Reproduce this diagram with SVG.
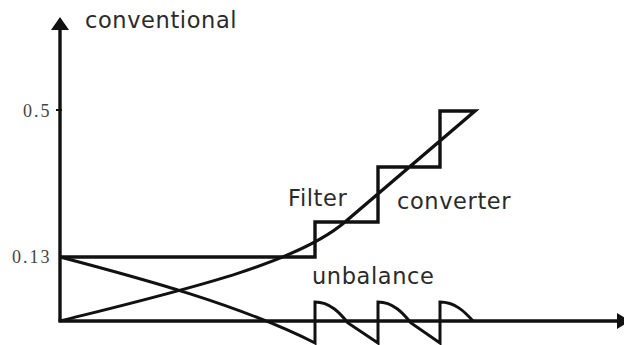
<svg xmlns="http://www.w3.org/2000/svg" width="624" height="345" viewBox="0 0 624 345">
<style>
.ln{fill:none;stroke:#111;stroke-width:3.4;stroke-linejoin:miter}
.cv{fill:none;stroke:#111;stroke-width:3}
.lbl{font-family:"DejaVu Sans",Verdana,sans-serif;font-size:22.5px;fill:#2a2a2a;letter-spacing:0.6px}
.num{font-family:"Liberation Serif","Times New Roman",serif;font-size:18px;fill:#444;letter-spacing:2px}
</style>
<rect width="624" height="345" fill="#fff"/>
<g id="axes">
<line class="ln" x1="60" y1="28" x2="60" y2="322"/>
<line class="ln" x1="58.5" y1="321" x2="618" y2="321"/>
<polygon points="60,17 51,30 69,30" fill="#111"/>
<polygon points="617,313 630,321 617,329" fill="#111"/>
<line x1="56" y1="110" x2="62" y2="110" stroke="#111" stroke-width="2"/>
<text class="num" x="23" y="117">0.5</text>
<text class="num" x="12" y="263">0.13</text>
</g>
<g id="connectors">
<path id="conventional-stairs" class="ln" d="M60,257 H315 V222 H378 V167 H440 V111 H475 L345,222"/>
<path id="filter-curve" class="cv" d="M60,321 C180,291 295,264.5 345,222"/>
<path id="unbalance" class="cv" d="M60,257 C140,278 240,305 315,343 V302 C330,302 340,313 348,323 L378,343 V302 C393,302 403,313 411,323 L440,343 V302 C455,302 465,312 473,321"/>
</g>
<g id="label-conventional"><text class="lbl" x="85" y="28">conventional</text></g>
<g id="label-filter"><text class="lbl" x="288" y="206">Filter</text></g>
<g id="label-converter"><text class="lbl" x="397" y="209">converter</text></g>
<g id="label-unbalance"><text class="lbl" x="312" y="284">unbalance</text></g>
</svg>
